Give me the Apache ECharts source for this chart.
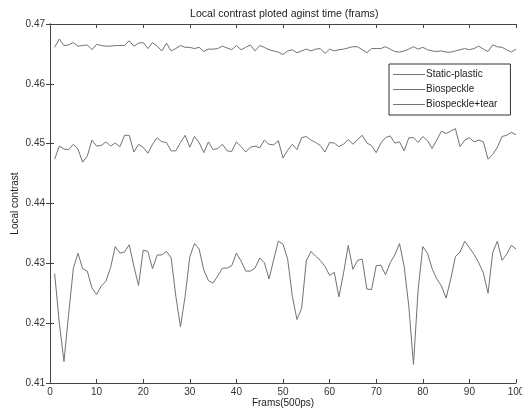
<!DOCTYPE html>
<html>
<head>
<meta charset="utf-8">
<script src="https://cdn.jsdelivr.net/npm/echarts@6/dist/echarts.min.js"></script>
<style>
html,body{margin:0;padding:0;background:#fff;}
#c{width:522px;height:411px;}
</style>
</head>
<body>
<div id="c"></div>
<script>
const frames = [1,2,3,4,5,6,7,8,9,10,11,12,13,14,15,16,17,18,19,20,
21,22,23,24,25,26,27,28,29,30,31,32,33,34,35,36,37,38,39,40,
41,42,43,44,45,46,47,48,49,50,51,52,53,54,55,56,57,58,59,60,
61,62,63,64,65,66,67,68,69,70,71,72,73,74,75,76,77,78,79,80,
81,82,83,84,85,86,87,88,89,90,91,92,93,94,95,96,97,98,99,100];

const staticPlastic = [
0.4661,0.4675,0.4664,0.4665,0.4669,0.4663,0.4664,0.4665,0.4657,0.4666,
0.4664,0.4663,0.4663,0.4664,0.4664,0.4664,0.4672,0.4663,0.4668,0.4669,
0.4659,0.4669,0.4663,0.4655,0.4668,0.4655,0.4659,0.4664,0.4661,0.4661,
0.4659,0.4661,0.4654,0.4658,0.4658,0.4659,0.4663,0.4660,0.4657,0.4664,
0.4657,0.4661,0.4665,0.4655,0.4664,0.4661,0.4657,0.4655,0.4653,0.4649,
0.4655,0.4657,0.4652,0.4655,0.4658,0.4655,0.4658,0.4659,0.4651,0.4658,
0.4655,0.4657,0.4658,0.4660,0.4662,0.4662,0.4657,0.4652,0.4659,0.4659,
0.4659,0.4662,0.4658,0.4654,0.4653,0.4655,0.4658,0.4662,0.4658,0.4661,
0.4657,0.4655,0.4654,0.4655,0.4653,0.4653,0.4655,0.4657,0.4659,0.4657,
0.4659,0.4663,0.4658,0.4654,0.4665,0.4662,0.4661,0.4657,0.4653,0.4658];

const biospeckle = [
0.4474,0.4496,0.4491,0.4490,0.4499,0.4491,0.4469,0.4479,0.4506,0.4496,
0.4497,0.4503,0.4496,0.4501,0.4495,0.4514,0.4514,0.4486,0.4499,0.4494,
0.4484,0.4499,0.4510,0.4503,0.4502,0.4488,0.4488,0.4502,0.4514,0.4494,
0.4512,0.4502,0.4485,0.4503,0.4490,0.4492,0.4499,0.4488,0.4487,0.4503,
0.4495,0.4486,0.4494,0.4496,0.4493,0.4506,0.4499,0.4498,0.4505,0.4476,
0.4489,0.4499,0.4490,0.4510,0.4512,0.4506,0.4502,0.4497,0.4486,0.4502,
0.4501,0.4495,0.4499,0.4507,0.4499,0.4507,0.4514,0.4501,0.4497,0.4485,
0.4501,0.4510,0.4513,0.4501,0.4503,0.4488,0.4510,0.4510,0.4502,0.4512,
0.4505,0.4492,0.4506,0.4521,0.4517,0.4521,0.4525,0.4495,0.4506,0.4510,
0.4503,0.4506,0.4503,0.4474,0.4482,0.4494,0.4512,0.4514,0.4519,0.4515];

const biospeckleTear = [
0.4283,0.4200,0.4136,0.4215,0.4291,0.4317,0.4291,0.4287,0.4259,0.4248,
0.4262,0.4270,0.4293,0.4328,0.4317,0.4319,0.4331,0.4295,0.4263,0.4322,
0.4320,0.4291,0.4314,0.4314,0.4320,0.4309,0.4245,0.4194,0.4245,0.4311,
0.4333,0.4324,0.4289,0.4271,0.4267,0.4279,0.4292,0.4292,0.4296,0.4317,
0.4304,0.4287,0.4287,0.4292,0.4309,0.4301,0.4274,0.4306,0.4337,0.4332,
0.4307,0.4245,0.4206,0.4225,0.4304,0.4320,0.4312,0.4305,0.4295,0.4280,
0.4285,0.4244,0.4284,0.4330,0.4290,0.4305,0.4307,0.4257,0.4256,0.4296,
0.4297,0.4281,0.4301,0.4314,0.4333,0.4295,0.4228,0.4131,0.4256,0.4328,
0.4317,0.4291,0.4274,0.4262,0.4242,0.4274,0.4311,0.4319,0.4337,0.4326,
0.4315,0.4301,0.4284,0.4250,0.4318,0.4337,0.4305,0.4315,0.4330,0.4324];

const seriesNames = ['Static-plastic','Biospeckle','Biospeckle+tear'];
const xTicks = [0,10,20,30,40,50,60,70,80,90,100];
const yTicks = ['0.41','0.42','0.43','0.44','0.45','0.46','0.47'];

const pair = arr => frames.map((f, k) => [f, arr[k]]);
const font = 'Liberation Sans, Arial, sans-serif';
const axisCol = '#444';
const lineCol = '#727272';

const chart = echarts.init(document.getElementById('c'), null, {renderer: 'canvas'});
chart.setOption({
  animation: false,
  backgroundColor: '#fff',
  title: {
    text: 'Local contrast ploted aginst time (frams)',
    left: 190, top: 9, padding: 0,
    textStyle: {fontFamily: font, fontSize: 10.6, fontWeight: 'normal', color: '#222'}
  },
  grid: {left: 50, right: 6, top: 24, bottom: 28, containLabel: false, outerBoundsMode: 'none'},
  legend: {
    orient: 'vertical',
    left: 389, top: 64,
    padding: [5, 13, 5, 4],
    itemGap: 4,
    itemWidth: 32, itemHeight: 1,
    icon: 'rect',
    borderColor: '#333', borderWidth: 1,
    backgroundColor: '#fff',
    textStyle: {fontFamily: font, fontSize: 10, color: '#222', padding: [0, 0, 0, -4], lineHeight: 11},
    data: seriesNames
  },
  xAxis: [{
    type: 'value', min: xTicks[0], max: xTicks[xTicks.length - 1], interval: 10,
    name: 'Frams(500ps)', nameLocation: 'middle', nameGap: 15, nameMoveOverlap: false,
    nameTextStyle: {fontFamily: font, fontSize: 10, color: '#222'},
    axisLine: {show: true, lineStyle: {color: axisCol, width: 1}},
    axisTick: {show: true, inside: true, length: 4, lineStyle: {color: axisCol}},
    axisLabel: {fontFamily: font, fontSize: 10, color: '#333', margin: 4},
    splitLine: {show: false}
  }, {
    type: 'value', position: 'top', min: xTicks[0], max: xTicks[xTicks.length - 1], interval: 10,
    axisLine: {show: true, lineStyle: {color: axisCol, width: 1}},
    axisTick: {show: true, inside: true, length: 4, lineStyle: {color: axisCol}},
    axisLabel: {show: false}, splitLine: {show: false}
  }],
  yAxis: [{
    type: 'value', min: 0.41, max: 0.47, interval: 0.01,
    name: 'Local contrast', nameLocation: 'middle', nameGap: 30, nameMoveOverlap: false,
    nameTextStyle: {fontFamily: font, fontSize: 10, color: '#222'},
    axisLine: {show: true, lineStyle: {color: axisCol, width: 1}},
    axisTick: {show: true, inside: true, length: 4, lineStyle: {color: axisCol}},
    axisLabel: {fontFamily: font, fontSize: 10, color: '#333', margin: 5,
      formatter: v => yTicks[Math.round((v - 0.41) * 100)]},
    splitLine: {show: false}
  }, {
    type: 'value', position: 'right', min: 0.41, max: 0.47, interval: 0.01,
    axisLine: {show: true, lineStyle: {color: axisCol, width: 1}},
    axisTick: {show: true, inside: true, length: 4, lineStyle: {color: axisCol}},
    axisLabel: {show: false}, splitLine: {show: false}
  }],
  series: [
    {name: seriesNames[0], type: 'line', data: pair(staticPlastic), symbol: 'none',
     lineStyle: {color: lineCol, width: 1}, itemStyle: {color: lineCol}},
    {name: seriesNames[1], type: 'line', data: pair(biospeckle), symbol: 'none',
     lineStyle: {color: lineCol, width: 1}, itemStyle: {color: lineCol}},
    {name: seriesNames[2], type: 'line', data: pair(biospeckleTear), symbol: 'none',
     lineStyle: {color: lineCol, width: 1}, itemStyle: {color: lineCol}}
  ]
});
</script>
</body>
</html>
